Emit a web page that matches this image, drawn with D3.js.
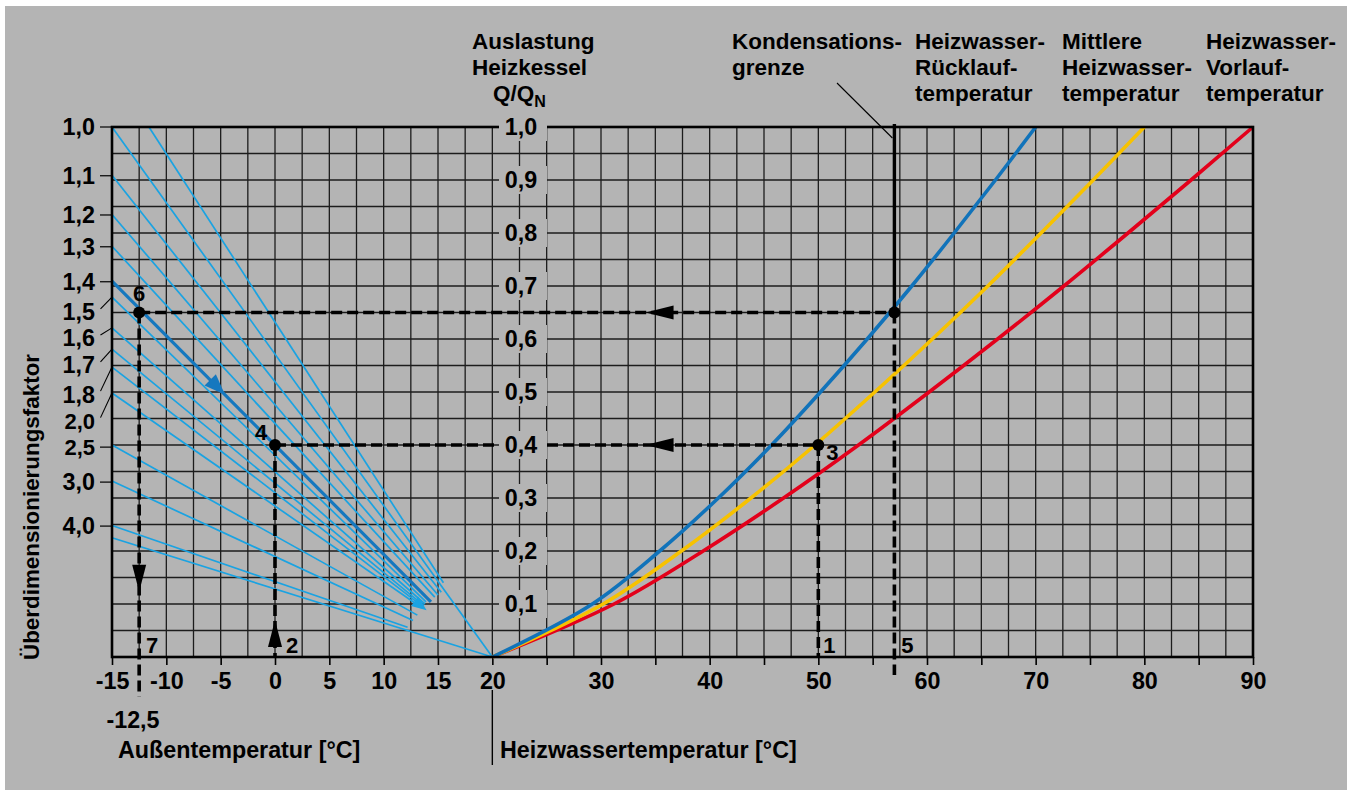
<!DOCTYPE html>
<html><head><meta charset="utf-8">
<script src="https://cdn.jsdelivr.net/npm/d3@7"></script>
<style>
html,body{margin:0;padding:0;background:#fff;}
svg{display:block;font-family:"Liberation Sans",Arial,Helvetica,sans-serif;font-weight:bold;}
</style></head><body><svg id="c" width="1352" height="794"></svg>
<script>
// ---------- data ----------
const tempTicks = [-15,-10,-5,0,5,10,15,20,30,40,50,60,70,80,90];
const loadTicks = [0.1,0.2,0.3,0.4,0.5,0.6,0.7,0.8,0.9,1.0];
const loadTickLabels = ["0,1","0,2","0,3","0,4","0,5","0,6","0,7","0,8","0,9","1,0"];
const factorLabels = ["1,0","1,1","1,2","1,3","1,4","1,5","1,6","1,7","1,8","2,0","2,5","3,0","4,0"];
const factorLabelLoad = [1.0,0.908,0.834,0.774,0.708,0.651,0.602,0.551,0.496,0.446,0.396,0.330,0.247];
const factorLineLoad  = [1.0,0.909,0.835,0.775,0.709,0.679,0.621,0.581,0.547,0.498,0.400,0.332,0.248];

// fan of load lines (outside temperature vs. boiler load)
const fanStartT    = [-15, -11.6, -15, -15, -15, -15, -15, -15, -15, -15, -15, -15, -15, -15];
const fanStartLoad = [1.0, 1.0, 0.909, 0.835, 0.775, 0.679, 0.621, 0.581, 0.547, 0.498, 0.400, 0.332, 0.248, 0.225];
const fanEndT      = [20, 15.5, 15.3, 15.0, 14.7, 13.9, 13.8, 13.7, 13.6, 13.5, 13.1, 12.7, 12.2, 20];
const fanEndLoad   = [0, 0.140, 0.122, 0.117, 0.113, 0.104, 0.100, 0.097, 0.095, 0.093, 0.079, 0.069, 0.056, 0];
// highlighted line (overdimensioning factor 1,4)
const darkLineT    = [-15, 14.35];
const darkLineLoad = [0.709, 0.104];

// heating water temperatures
const curveLoad  = [0, 0.1, 0.2, 0.3, 0.4, 0.5, 0.6, 0.7, 0.8, 0.9, 1.0];
const returnTemp = [20, 29.2, 35.4, 40.8, 45.7, 50.2, 54.5, 58.6, 62.5, 66.3, 70];
const meanTemp   = [20, 30.2, 37.4, 43.8, 49.7, 55.2, 60.5, 65.6, 70.5, 75.3, 80];
const supplyTemp = [20, 31.2, 39.4, 46.8, 53.7, 60.2, 66.5, 72.6, 78.5, 84.3, 90];

// reading example (guides)
const guideHLoad = [0.65, 0.4];
const guideHFrom = [-12.5, 0];
const guideHTo   = [57, 50];
const guideVT    = [-12.5, 0, 50, 57];
const guideVFrom = [0.65, 0.4, 0.4, 0.65];
const guideVTo   = [-0.075, 0, 0, -0.034];
const condensT = 57;
const pointT    = [-12.5, 0, 50, 57];
const pointLoad = [0.65, 0.4, 0.4, 0.65];
const pointLabels = ["6","4","3",""];
const stepLabels = ["7","2","1","5"];
const stepT      = [-12.5, 0, 50, 57];

// ---------- drawing ----------
const svg = d3.select("#c");
const bg = "#b4b4b4";
svg.append("rect").attr("x",5).attr("y",6).attr("width",1342).attr("height",784).attr("fill",bg);

const x = d3.scaleLinear().domain([-15,90]).range([112,1253]);
const y = d3.scaleLinear().domain([0,1]).range([657,127]);
const FS = 23.3;   // tick labels / axis titles
const HS = 22.5;   // header labels

// grid
const g = svg.append("g");
g.selectAll("line.v").data(d3.range(-15, 90.01, 2.5)).join("line")
  .attr("x1",d=>x(d)).attr("x2",d=>x(d)).attr("y1",y(0)).attr("y2",y(1))
  .attr("stroke","#1c1c1c").attr("stroke-width",1.3);
g.selectAll("line.h").data(d3.range(0, 1.001, 0.05)).join("line")
  .attr("y1",d=>y(d)).attr("y2",d=>y(d)).attr("x1",x(-15)).attr("x2",x(90))
  .attr("stroke","#1c1c1c").attr("stroke-width",1.3);

// x axis ticks + labels
const xAxis = d3.axisBottom(x).tickValues(d3.range(-15,91,5)).tickSize(8).tickPadding(7)
  .tickFormat(d => tempTicks.includes(d) ? String(d) : "");
const ax = svg.append("g").attr("transform",`translate(0,${y(0)})`).call(xAxis);
ax.select(".domain").remove();
ax.selectAll(".tick line").attr("stroke","#000").attr("stroke-width",1.6);
ax.selectAll(".tick text").attr("font-size",FS).attr("font-weight","bold")
  .attr("font-family","Liberation Sans, Arial, sans-serif").attr("fill","#000");

// fan lines
const fan = fanStartT.map((t,i)=>({t0:t,q0:fanStartLoad[i],t1:fanEndT[i],q1:fanEndLoad[i]}));
svg.append("g").selectAll("line").data(fan).join("line")
  .attr("x1",d=>x(d.t0)).attr("y1",d=>y(d.q0)).attr("x2",d=>x(d.t1)).attr("y2",d=>y(d.q1))
  .attr("stroke","#1aa3e2").attr("stroke-width",1.7);

function arrow(tx,ty,dx,dy,len,hw){
  const n=Math.hypot(dx,dy); dx/=n; dy/=n;
  const bx=tx-dx*len, by=ty-dy*len;
  return [[tx,ty],[bx-dy*hw,by+dx*hw],[bx+dy*hw,by-dx*hw]].map(p=>p.join(",")).join(" ");
}
// fan bundle arrow
{
  const i=8;
  const dx=x(fanEndT[i])-x(fanStartT[i]), dy=y(fanEndLoad[i])-y(fanStartLoad[i]);
  svg.append("polygon").attr("points",arrow(x(13.95),y(0.088),dx,dy,15,6)).attr("fill","#1aa3e2");
}
// dark line
svg.append("line").attr("x1",x(darkLineT[0])).attr("y1",y(darkLineLoad[0]))
  .attr("x2",x(darkLineT[1])).attr("y2",y(darkLineLoad[1]))
  .attr("stroke","#1578bf").attr("stroke-width",3.2);
{
  const dx=x(darkLineT[1])-x(darkLineT[0]), dy=y(darkLineLoad[1])-y(darkLineLoad[0]);
  const tt=-4.6, tq=darkLineLoad[0]+(darkLineLoad[1]-darkLineLoad[0])*(tt-darkLineT[0])/(darkLineT[1]-darkLineT[0]);
  svg.append("polygon").attr("points",arrow(x(tt),y(tq),dx,dy,21,8)).attr("fill","#1578bf");
}

// curves
const line = d3.line().x(d=>x(d[0])).y(d=>y(d[1])).curve(d3.curveCatmullRom.alpha(0.5));
const curves = [[supplyTemp,"#e3001b"],[meanTemp,"#f7c200"],[returnTemp,"#1173ba"]];
curves.forEach(([arr,col])=>{
  svg.append("path").attr("d",line(arr.map((t,i)=>[t,curveLoad[i]])))
    .attr("fill","none").attr("stroke",col).attr("stroke-width",3.6).attr("stroke-linecap","butt");
});

// condensation limit (solid part)
svg.append("line").attr("x1",x(condensT)).attr("x2",x(condensT)).attr("y1",y(1)-3).attr("y2",y(0.65))
  .attr("stroke","#000").attr("stroke-width",3.4);
svg.append("line").attr("x1",837).attr("y1",83).attr("x2",x(condensT)-2).attr("y2",138)
  .attr("stroke","#000").attr("stroke-width",1.1);

// dashed guides
const dash = "11,5";
guideHLoad.forEach((q,i)=>{
  svg.append("line").attr("x1",x(guideHFrom[i])).attr("x2",x(guideHTo[i])).attr("y1",y(q)).attr("y2",y(q))
    .attr("stroke","#000").attr("stroke-width",3.6).attr("stroke-dasharray",dash);
  svg.append("polygon").attr("points",arrow(x(34.1),y(q),-1,0,28,7)).attr("fill","#000");
});
guideVT.forEach((t,i)=>{
  svg.append("line").attr("x1",x(t)).attr("x2",x(t)).attr("y1",y(guideVFrom[i])).attr("y2",y(guideVTo[i]))
    .attr("stroke","#000").attr("stroke-width",3.6).attr("stroke-dasharray",dash);
});
svg.append("polygon").attr("points",arrow(x(-12.5),y(0.123),0,1,27,7)).attr("fill","#000");
svg.append("polygon").attr("points",arrow(x(0),y(0.07),0,-1,27,7)).attr("fill","#000");

// frame
svg.append("rect").attr("x",x(-15)).attr("y",y(1)).attr("width",x(90)-x(-15)).attr("height",y(0)-y(1))
  .attr("fill","none").attr("stroke","#000").attr("stroke-width",2.6);

// middle load axis labels
const mid = svg.append("g");
loadTicks.forEach((q,i)=>{
  mid.append("rect").attr("x",499).attr("y",y(q)-14).attr("width",48).attr("height",28).attr("fill",bg);
  mid.append("text").attr("x",521).attr("y",y(q)).attr("dy","0.36em").attr("text-anchor","middle")
    .attr("font-size",FS).text(loadTickLabels[i]);
});

// points
pointT.forEach((t,i)=>{
  svg.append("circle").attr("cx",x(t)).attr("cy",y(pointLoad[i])).attr("r",6).attr("fill","#000");
});
const plOff = [[0,-19],[-14,-13],[14,7]];
pointLabels.forEach((l,i)=>{
  if(!l) return;
  svg.append("text").attr("x",x(pointT[i])+plOff[i][0]).attr("y",y(pointLoad[i])+plOff[i][1]).attr("dy","0.36em")
    .attr("text-anchor","middle").attr("font-size",22).text(l);
});
const slOff = [13,17,11,13];
stepLabels.forEach((l,i)=>{
  svg.append("text").attr("x",x(stepT[i])+slOff[i]).attr("y",y(0)-12).attr("dy","0.36em")
    .attr("text-anchor","middle").attr("font-size",22).text(l);
});

// left factor labels
const left = svg.append("g");
factorLabels.forEach((l,i)=>{
  const ly = y(factorLabelLoad[i]), ty = y(factorLineLoad[i]);
  const tight = (l==="2,0"||l==="2,5");
  left.append("text").attr("x",95).attr("y",ly).attr("dy","0.36em").attr("text-anchor","end")
    .attr("font-size",tight?22:FS).text(l);
  if (Math.abs(factorLabelLoad[i]-factorLineLoad[i])<0.01){
    left.append("line").attr("x1",100).attr("x2",x(-15)).attr("y1",ly).attr("y2",ly)
      .attr("stroke","#000").attr("stroke-width",1.2);
  } else {
    left.append("line").attr("x1",100.5).attr("x2",x(-15)).attr("y1",ly-3).attr("y2",ty)
      .attr("stroke","#000").attr("stroke-width",1.1);
  }
});

// titles
function multi(xp, yp, lines){
  const t = svg.append("text").attr("x",xp).attr("y",yp).attr("font-size",HS);
  lines.forEach((s,i)=>t.append("tspan").attr("x",xp).attr("y",yp+i*26).text(s));
  return t;
}
multi(472,49,["Auslastung","Heizkessel"]);
{
  const t = svg.append("text").attr("x",493).attr("y",101).attr("font-size",HS).text("Q/Q");
  t.append("tspan").attr("font-size",16).attr("dy",6).text("N");
}
multi(732,49,["Kondensations-","grenze"]);
multi(915,49,["Heizwasser-","Rücklauf-","temperatur"]);
multi(1062,49,["Mittlere","Heizwasser-","temperatur"]);
multi(1206,49,["Heizwasser-","Vorlauf-","temperatur"]);

svg.append("text").attr("x",133).attr("y",728).attr("text-anchor","middle").attr("font-size",FS).text("-12,5");
svg.append("text").attr("x",118).attr("y",758).attr("font-size",FS).text("Außentemperatur [°C]");
svg.append("text").attr("x",500).attr("y",758).attr("font-size",FS).text("Heizwassertemperatur [°C]");
svg.append("line").attr("x1",x(20)).attr("x2",x(20)).attr("y1",690).attr("y2",765).attr("stroke","#000").attr("stroke-width",1.4);
svg.append("text").attr("transform","translate(39,507) rotate(-90)").attr("text-anchor","middle")
  .attr("font-size",22.4).text("Überdimensionierungsfaktor");
</script></body></html>
